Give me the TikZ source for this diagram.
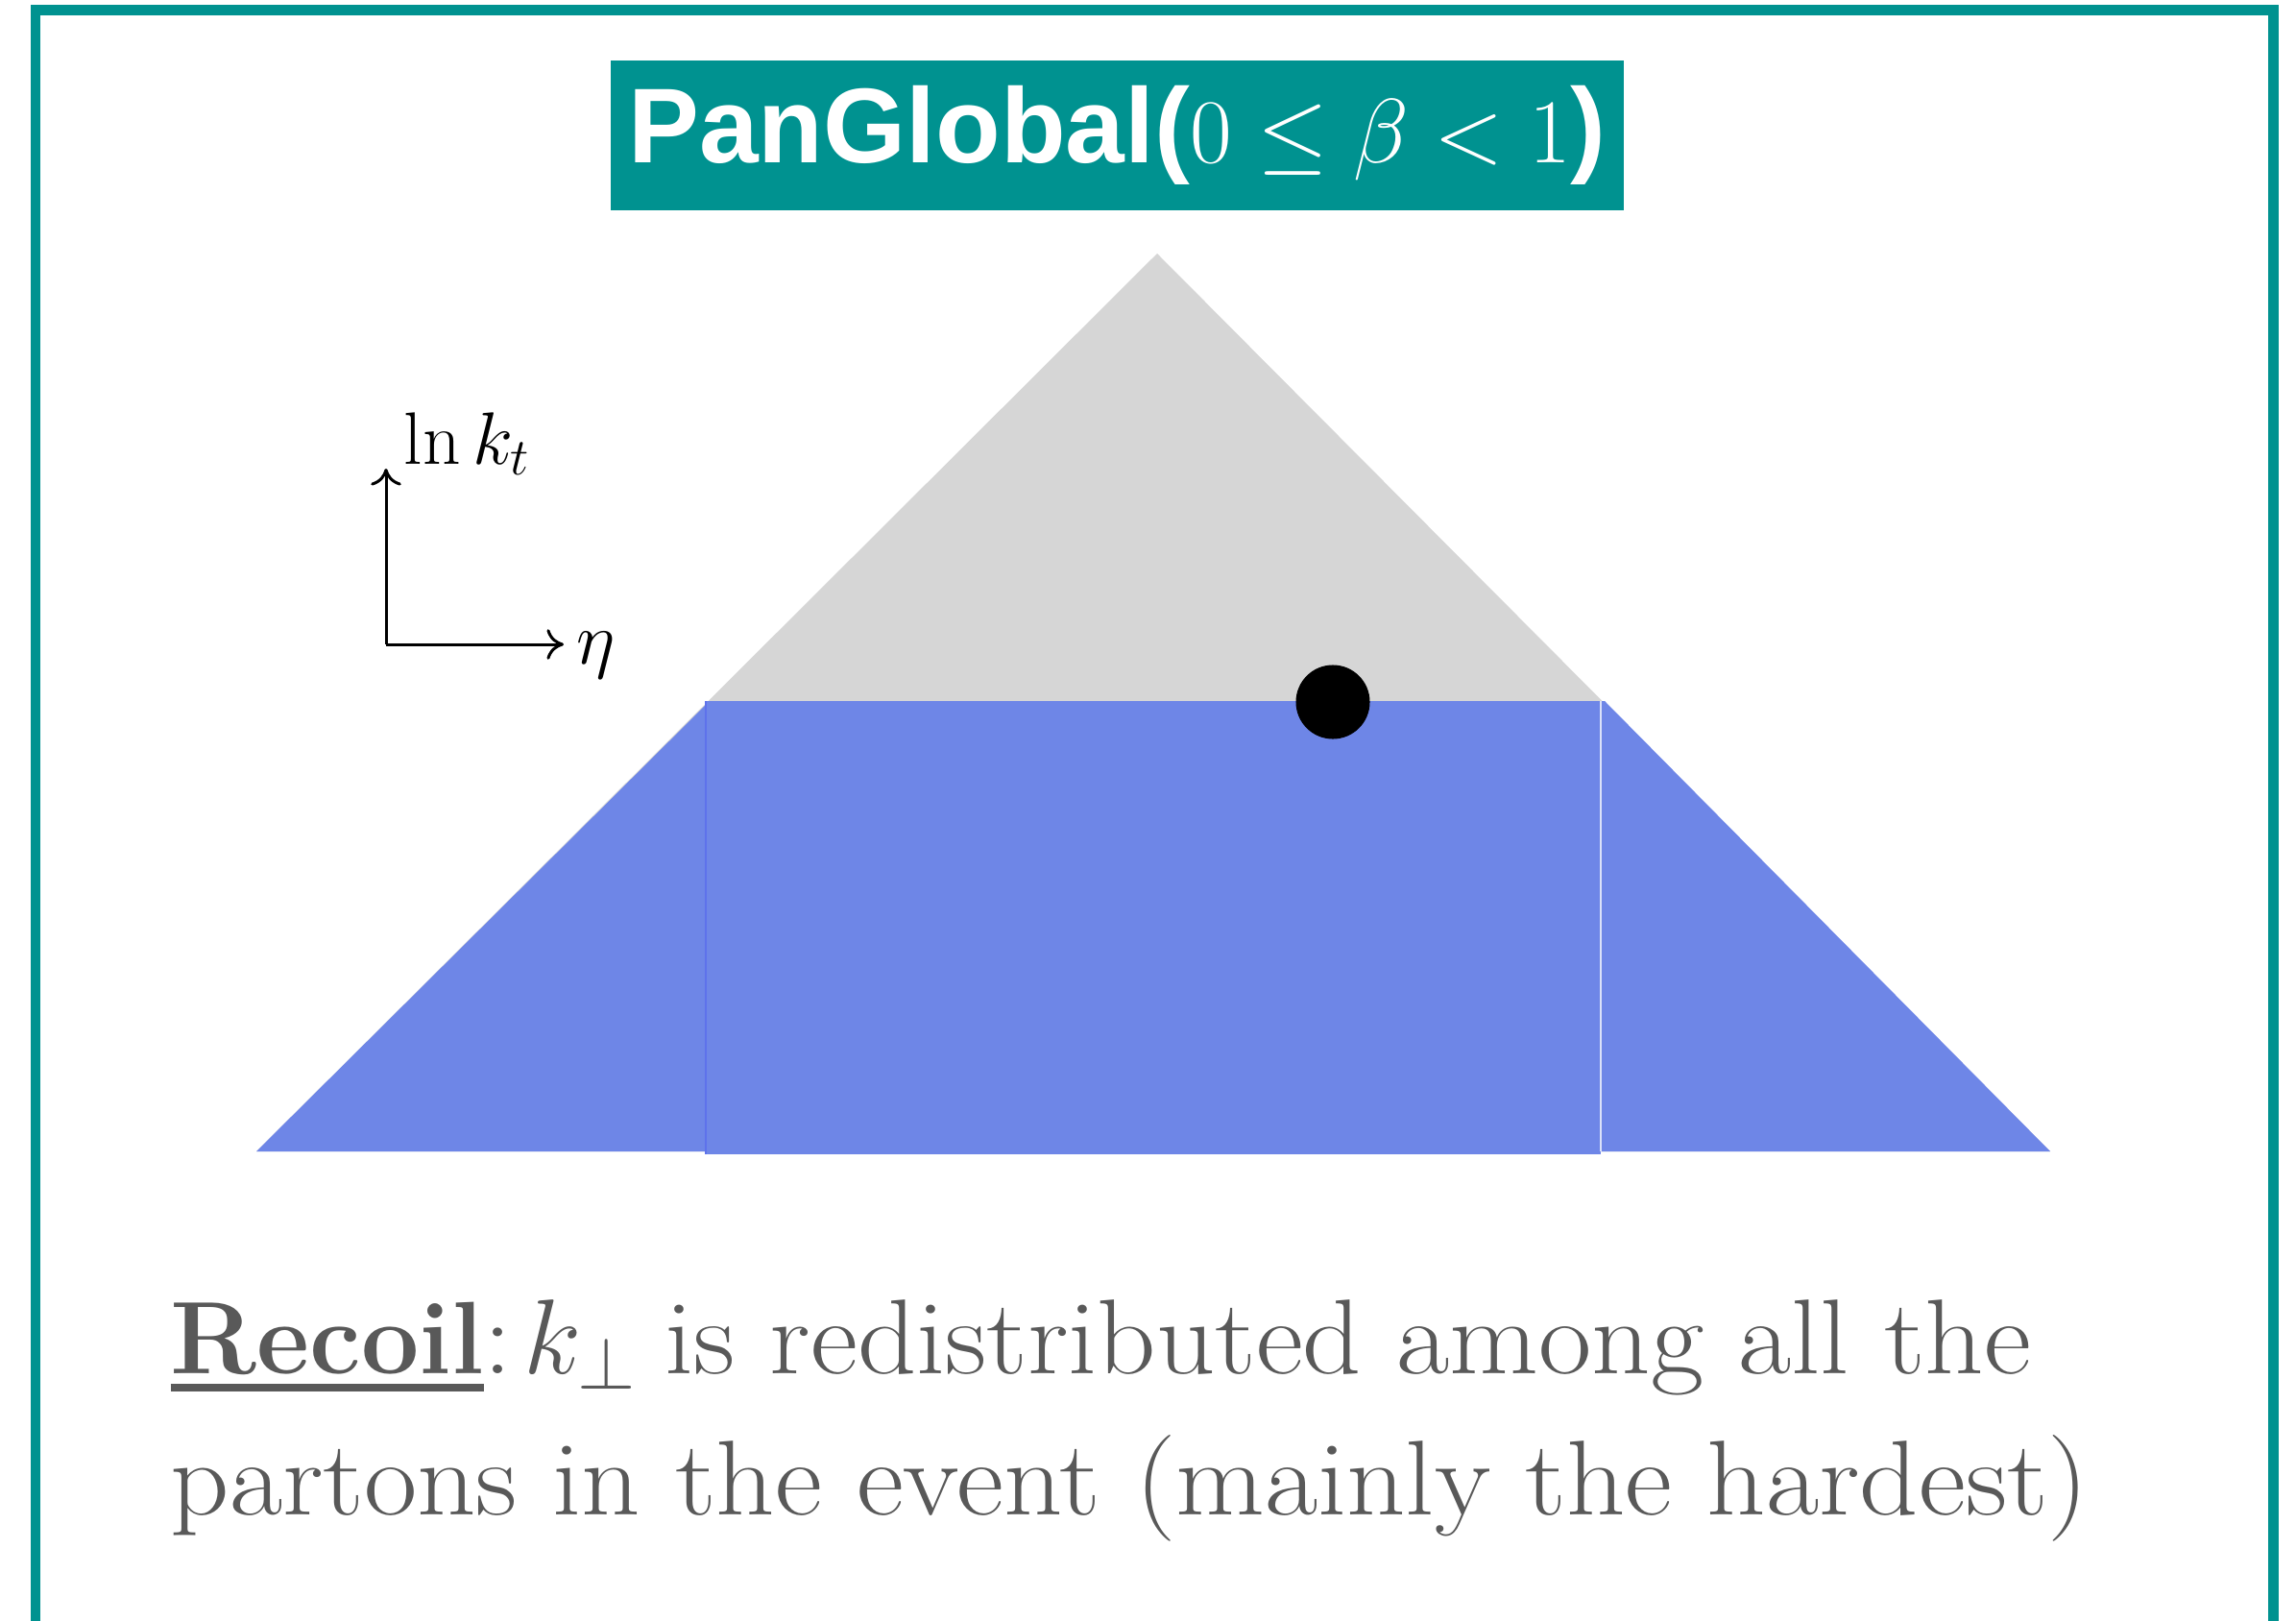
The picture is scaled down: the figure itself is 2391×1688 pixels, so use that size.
\documentclass[tikz,border=0pt]{standalone}
\usepackage{fix-cm}
\usepackage{fontspec}
\usepackage{amsmath}
\usetikzlibrary{arrows.meta}

\newfontfamily\titlefont{Liberation Sans}
\newfontfamily\captionfont{Latin Modern Roman}[FakeStretch=1.085]
\definecolor{panteal}{RGB}{0,146,144}
\definecolor{conegrey}{RGB}{214,214,214}
\definecolor{recoilblue}{RGB}{110,134,231}
\definecolor{captiongrey}{RGB}{89,89,89}
\newcommand{\thickul}[1]{\setbox0\hbox{#1}\rlap{\rule[-0.17em]{\wd0}{0.075em}}\box0}

\begin{document}
\begin{tikzpicture}[x=0.01cm, y=-0.01cm,
    axis/.style={line width=0.85pt, -{To[length=5pt,width=9pt]}},
    axislabel/.style={anchor=base west, inner sep=0pt, font=\fontsize{22}{26}\selectfont},
    caption/.style={anchor=base west, inner sep=0pt, text=captiongrey, font=\captionfont\fontsize{31.5}{36}\selectfont}]
    \useasboundingbox (0,0) rectangle (2391,1688);

    % Frame
    \draw[panteal, line width=2.9pt] (37,10.5) rectangle (2367.5,1693);

    % Title
    \node[fill=panteal, text=white, minimum width=10.55cm, minimum height=1.56cm, inner sep=0pt] (title) at (1163.5,141)
        {\titlefont\bfseries\fontsize{31.5}{36}\selectfont PanGlobal(\fontsize{27}{32}\selectfont$0\leq\beta<1$\fontsize{31.5}{36}\selectfont)};

    % Lund plane
    \coordinate (apex) at (1205,264);
    \coordinate (bl) at (267,1199);
    \coordinate (br) at (2135,1199);
    \fill[conegrey] (bl) -- (apex) -- (br) -- cycle;

    % Recoil region
    \fill[recoilblue] (bl) -- (739,730) -- (1671,730) -- (br) -- cycle;
    \fill[recoilblue] (735,730) rectangle (1667,1202);
    \draw[recoilblue!85!blue, line width=0.3pt] (735,730) -- (735,1202);
    \draw[white!75!recoilblue, line width=0.3pt] (1667,730) -- (1667,1199);

    % Emission
    \node[circle, fill=black, minimum size=0.77cm, inner sep=0pt] (emission) at (1388,731) {};

    % Axes
    \coordinate (origin) at (402,671);
    \coordinate (ytip) at (402,488);
    \coordinate (xtip) at (587,671);
    \draw[axis] (origin) -- (ytip);
    \draw[axis] (origin) -- (xtip);
    \node[axislabel] (lnkt) at (420,483) {$\ln k_t$};
    \node[axislabel] (eta) at (600,691) {$\eta$};

    % Caption
    \node[caption] (recoil1) at (177,1430)
        {\thickul{\normalfont\bfseries\fontsize{30.5}{36}\selectfont Recoil}:\hspace{0.1em}$k_\perp$\hspace{0.26em}is redistributed among all the};
    \node[caption] (recoil2) at (177,1577) {partons in the event (mainly the hardest)};

\end{tikzpicture}
\end{document}
